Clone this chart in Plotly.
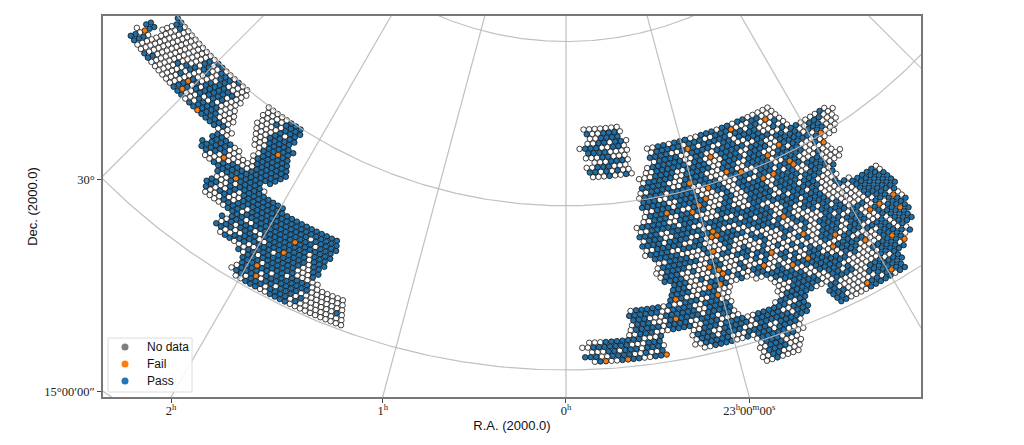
#!/usr/bin/env python3

import numpy as np
import plotly.graph_objects as go

# survey cells, one list per declination row
# each row is a list of (first column, status string): W = not observed, P = pass
DEC_STEP = 0.4384
RA_STEP = 0.507

LEFT_TOP_DEC = 44.9
LEFT_CENTRE = -37.0
LEFT_COL0 = -28
LEFT_ROWS = [
  [(5, "PPWWWWWWWWWPPWWWPWW"), (28, "WWWWWPPP")],
  [(5, "PPWWWWWWWPWWPPPWWWW"), (28, "WWWWPPPP")],
  [(5, "WWWWWWWWWPPWWPPWWWW"), (28, "WWWPWPPP")],
  [(4, "WWWWWWWWWWPPWWPPPPWW"), (28, "WWWWPWPP")],
  [(4, "WWWWWWWWWPWWWPPPPWWW"), (28, "WWWWPPPP")],
  [(1, "PP"), (4, "WWWWWWWPPWWWPPPPPWWW"), (28, "WWWPPPPPP")],
  [(1, "PP"), (4, "WWWWWWPWWWPPWPPPWWWWW"), (29, "WWWPPPPP")],
  [(1, "PWWWWWWWWWPWWWPPWWPPWWWW"), (29, "WWWPPPPP")],
  [(0, "WWPWWWWWWWWWWPPWWPPPPPWWW"), (30, "WWPPPPPP")],
  [(0, "PPWWWPWWWWWWPPWWWPPPPPPPWW"), (31, "WPPPPPP")],
  [(0, "PPWWPPWWWWWWPPPWPPWPPPPWWW"), (31, "WPPPPPPP")],
  [(23, "PPPPWW"), (31, "WPPPPPP")],
  [(23, "PPPPWWWWWWPPPPP")],
  [(23, "PPPPWWWWWPPPPP")],
  [(22, "PPPPWWWPPPPPPP")],
  [(22, "PPWWWPPPPPPPPPW")],
  [(24, "WWPPPPPPPPPPPPPPPP")],
  [(27, "PWWPWPPPPPPPPPPPPPPPPPPPPP")],
  [(28, "WWWPPWPPPPPPPPPPPPPPPPPPPP")],
  [(27, "PPWWPWWPPPPPPPPPPPPPPWPPPPP")],
  [(27, "PPWPPWWPPWPPPPPPPPPPPPPWPPP")],
  [(27, "PWWWPPPPWPPPPPPPPPPPPPPPPPP")],
  [(28, "WWWWWPPPPWWPPPPPPPPPPPWPPP")],
  [(34, "PPPPPWWPPPPPPPPPWPPP")],
  [(33, "PWPWPPPPWWPPPPPPPPWPP")],
  [(33, "WPPWWPPPPPPWPPPPPWWPP")],
  [(33, "PPWWPPPWWPPPPPPPPWWWP")],
  [(34, "WPPWWWPPWPPPPPPPWWWWW")],
  [(39, "PWPPPWPPPPWPPPPWWWWWWW")],
  [(40, "PPPPPPWPPPPPPPWWWWWWW")],
  [(41, "PPPPWPPPPPPPWWWWWWWWW")],
  [(40, "WPPPPWPPWPPPWPWWWWWWPW")],
  [(40, "WPPWPPPWPPPPWPWWWWWWWWW")],
  [(41, "WWPPPWWPPPPWWWWWWWWWWW")],
]
LEFT_FAIL = [(7, -27), (7, -15), (9, -15), (10, -10), (14, -1), (16, 3), (7, 6),
             (21, 18), (24, 18), (29, 15), (31, 16)]

SQUARE_TOP_DEC = 51.92
SQUARE_CENTRE = 4.7
SQUARE_COL0 = -4
SQUARE_ROWS = [
  [(1, "WWWWWWW")],
  [(1, "PWWPPPW")],
  [(2, "WWPPPP")],
  [(1, "WWPPWPPW")],
  [(0, "WPPPWWPPW")],
  [(1, "PPPPWWWW")],
  [(1, "WWWPPWWW")],
  [(2, "WWWPPPW")],
  [(1, "WWPPPWWW")],
  [(1, "PPWPWPWW")],
  [(2, "WWWPWWPW")],
]

RIGHT_TOP_DEC = 49.54
RIGHT_CENTRE = 17.0
RIGHT_COL0 = -31
RIGHT_ROWS = [
  [(22, "WWPPWPPPWWPPPWPPWPPWWWWW")],
  [(22, "WPPPPPWPPPWWPPPPWWWPPWWW")],
  [(22, "PPPPWWPPPWPPPPPWPPWPPWWWW")],
  [(22, "WPPPPWWPPPPWWPPWPPPPWWWPW")],
  [(21, "WPPPPPPWWPPWWPPPPWWPPPWWPWW")],
  [(20, "WWPPPPPPWPPWWWPPPPPWWPPPWWPW")],
  [(19, "WWWPPPPWWPPPPWWWPPPWWPPPWWPPWPPWWWWPW")],
  [(19, "WPPPPPWWPPPPPWWPPPPWPPPPWWPPPPWWPPPWWW")],
  [(19, "PPPPPWWWPPPPWWWPPPWWPPPWWWPPPPPWPPPWWW")],
  [(18, "WWPPPPWWPPPPPWWWPPWWPPPPWWPPWPPPPWPPWWW")],
  [(18, "WPPPPWPPPPWWPPPWWPPPWWPPPWPPPPPWWWPPWWW")],
  [(18, "PPPWWPPPPPWWPPPWWWPPPWPPPWWPPPPWWPWWWW")],
  [(18, "PPPPPWWPPPPWWWPPWWPPWWPPPWPPPPWWWWWW")],
  [(18, "WWPPPWPPPPPPWWWPWWPPPPWWPPWPPPWWWPWW")],
  [(18, "WPPPPPPWWPPPWWWPPWWPPPPWWPPPPWWPPPWWW")],
  [(17, "WWPPPWWPPPPPWWWPPWWWPPPPWPPPPPWWPPPWWWW")],
  [(16, "WPPPPPWWPPPWWWWPPPWWWPPPPPWPPPPWPPPPPWWW")],
  [(16, "WWPPPPPWPPPPWWWPPPPWWPPPPWWPPPWPPPPWWP")],
  [(16, "PPPPWWPPPPWWPPPPWWPPPPPWWPPPWPPPPPWWWP")],
  [(16, "WPPPWWPPPPPWWPPPPPWPPPPPWWPPPPPWPPWWWW")],
  [(16, "PPPPWPPPPWWPPPPWWWPPPWPPPWWPPPWPPPWWWP")],
  [(16, "WWPPPPPWWPPWWPPPPWWPPPPPWWPPWWPPPPWWWPPW")],
  [(16, "WPPPPWWPPPPWWWPPPPPWWPPPWPPPWWPPPPPWWWWWPPPPPW")],
  [(17, "PPPPPWWWWPWWWPPWWWPWWWPPWWPWWWPWPPWWWWWPPPPPW")],
  [(18, "WWPPPPWWWPWWWPWWWWPPWWWPWWPPWWWPPWPWWWWPPPPPP")],
  [(17, "WPPPPPPPWWWWPPWWPWWWPWWWPPWWPWWWPPPPWWWWPPPPPP")],
  [(17, "WWPPPPWWWWPPWWWPPPWWPWWWPWWWPWWPPPWPPWWWWPPPPPP")],
  [(17, "WPPPWWPWWWPPWWWWPWPPWWPWWWPPWWWPPPPWWPPPWWPPPPP")],
  [(18, "PPPPWWWWWPPWWWPWWPWPWWWWPWWPWWPPPPWPPPWWWPPPWP")],
  [(19, "PPPWWPWWWPPWWPWWWPWWPPWWPWWWPPPPWWPPPWWPPWPPW")],
  [(19, "PPPWWWWPPPWWPWWPPPWWWPWPWWPWWPPPWWPPPPWWPWPPPW")],
  [(18, "PPPPWWWPPPPWWPWWPPWWPWWPWWPPPWWWWPPPPWWWWPPPPPP")],
  [(18, "PPPWWWPPPWWW"), (34, "WWPPPPWWPPPPPWWPPPPWWWPPPPWPPPP")],
  [(10, "WPPPPPWPWWPPPWWPPWW"), (36, "WPPPPWWPPPPPWWPPPPPWWWPPWPPPP")],
  [(10, "PPPPPPWWPPPPWWPPPWW"), (37, "WWPPPPWWPPPPPWPPPWWWWPPPWPPP")],
  [(10, "PPPWWWPPPPPPWWPPPPW"), (37, "WWWPPPWWPPPPPPWPWWWWWPPPWPPP")],
  [(10, "WPPPWWWPPPPPPWPPPPP"), (37, "WWWPPPPPWWPPPWWWWWWPPPPWPPW")],
  [(9, "WPPPPPWPPPPWWPPPWPPW"), (37, "WPPPPPPPWWPPWPWWWWWWPPPPPWP")],
  [(9, "WWPPPWWWPPPPWWPPPWWWW"), (36, "WPPPPPPPWWWWPPPPWWWWWPPPPWW")],
  [(1, "WWWPPPPPPPWWWP"), (20, "WWPPPWPPPPWWPPPPPPWWPP"), (46, "PPWWWWWWPPPWWPPP")],
  [(0, "WWPPPPPPPWWWPPP"), (20, "WPPPWWPPPPPWPPPPPWWPPP"), (46, "PPWWWWWWPPPPPPP")],
  [(1, "WWWPPWPPPWPPPW"), (20, "WPPPWPPPPWWWPPPPPPWPPP"), (46, "PPPWWWWWWPPPPPP")],
  [(0, "PPPWWPPPPWWPWWP"), (20, "WWPPPPPWWWPPPPWWPPPPPP"), (47, "PPWWWWWPPWPPPP")],
  [(1, "WPWWWPPPPWWPPW"), (21, "WWPPPPWWPWPPPWPPPPW"), (47, "PPWWWWPPPPPWPP")],
  [(31, "WPPPPPWWW")],
  [(31, "WPPPWPPWW")],
  [(31, "WWPPPWWW")],
  [(31, "WPPPPWWW")],
  [(31, "WWPPWWWW")],
  [(31, "WWPWWWW")],
]
RIGHT_FAIL = [(1, 6), (2, -2), (5, 1), (9, 3), (10, 6), (9, -4), (11, -1), (13, -2), (14, -3),
              (14, -9), (15, -5), (20, -2), (21, -2), (21, -3), (2, 13), (10, 22), (12, 22),
              (8, 14), (9, 11), (12, 15), (13, 15), (13, 11), (13, 9), (29, 31), (32, 32),
              (29, 28), (29, 26), (22, 11), (27, 13), (30, 19), (34, 24), (36, 29), (38, 31),
              (32, 18), (32, 13), (28, 7), (30, 5), (32, 10), (42, 27), (42, 22), (32, 0),
              (24, -3), (27, -5), (28, -3), (29, -3), (31, -4), (31, -6), (33, -5), (32, -12),
              (36, -13), (43, -28), (43, -24), (43, -17)]

RA_GRID = [-60, -45, -30, -15, 0, 15, 30, 45, 60]
DEC_GRID = [15, 30, 45, 60]
X_TICK_RA = [-30, -15, 0, 15]
X_TICK_TEXT = ['2<sup>h</sup>', '1<sup>h</sup>', '0<sup>h</sup>', '23<sup>h</sup>00<sup>m</sup>00<sup>s</sup>']
Y_TICK_DEC = [30, 15]
Y_TICK_TEXT = ['30°', '15°00′00″']
LEGEND_NAMES = ['No data', 'Fail', 'Pass']
LEGEND_COLORS = ['#7f7f7f', '#ff7f0e', '#1f77b4']

X_RANGE = [-42.28, 32.42]
Y_RANGE = [-62.47, -27.67]

GRID_COLOR = 'rgba(185,185,185,0.9)'
SANS = 'Liberation Sans'
SERIF = 'Liberation Serif'

#plot area on the page, used to place the hand drawn legend
LEFT, RIGHT, TOP, BOTTOM = 103, 921, 16, 397


def paper_x(px):
  return (px - LEFT) / (RIGHT - LEFT)


def paper_y(py):
  return (BOTTOM - py) / (BOTTOM - TOP)


#polar projection, theta in degrees and positive to the right of 0h
def project(theta, dec):
  r = 90 - np.asarray(dec, dtype = float)
  t = np.radians(theta)
  return r * np.sin(t), -r * np.cos(t)


def cells(rows, top_dec, centre, col0, fails):
  out = {'W': ([], []), 'P': ([], []), 'F': ([], [])}
  for n, row in enumerate(rows):
    dec = top_dec - n * DEC_STEP
    for start, body in row:
      for k, status in enumerate(body):
        col = col0 + start + k
        if (n, col) in fails:
          status = 'F'
        theta = centre + np.degrees((col + 0.5 * (n % 2)) * RA_STEP / (90 - dec))
        x, y = project(theta, dec)
        out[status][0].append(x)
        out[status][1].append(y)
  return out


fig = go.Figure()

blocks = [cells(LEFT_ROWS, LEFT_TOP_DEC, LEFT_CENTRE, LEFT_COL0, set(LEFT_FAIL)),
          cells(SQUARE_ROWS, SQUARE_TOP_DEC, SQUARE_CENTRE, SQUARE_COL0, set()),
          cells(RIGHT_ROWS, RIGHT_TOP_DEC, RIGHT_CENTRE, RIGHT_COL0, set(RIGHT_FAIL))]

for status, color in [('W', 'white'), ('P', '#1f6fa8'), ('F', '#ef7d1a')]:
  xs = sum((b[status][0] for b in blocks), [])
  ys = sum((b[status][1] for b in blocks), [])
  fig.add_trace(go.Scatter(x = xs, y = ys, mode = 'markers', showlegend = False, hoverinfo = 'skip',
                           marker = dict(color = color, size = 5.5, line = dict(color = '#111111', width = 0.8))))

#grid goes over the cells
for ra in RA_GRID:
  dec = np.linspace(-10, 88, 80)
  x, y = project(np.full(dec.shape, ra), dec)
  fig.add_trace(go.Scatter(x = x, y = y, mode = 'lines', showlegend = False, hoverinfo = 'skip',
                           line = dict(color = GRID_COLOR, width = 1.2)))
for d in DEC_GRID:
  theta = np.linspace(-70, 70, 300)
  x, y = project(theta, np.full(theta.shape, d))
  fig.add_trace(go.Scatter(x = x, y = y, mode = 'lines', showlegend = False, hoverinfo = 'skip',
                           line = dict(color = GRID_COLOR, width = 1.2)))

#legend box, the built in one pads too much to fit this height
fig.add_shape(type = 'rect', xref = 'paper', yref = 'paper', x0 = paper_x(108), x1 = paper_x(192),
              y0 = paper_y(392), y1 = paper_y(338), fillcolor = 'rgba(255,255,255,0.85)',
              line = dict(color = '#dcdcdc', width = 1))
for k, (name, color) in enumerate(zip(LEGEND_NAMES, LEGEND_COLORS)):
  cy = 347 + k * 17
  fig.add_shape(type = 'circle', xref = 'paper', yref = 'paper', x0 = paper_x(121.5), x1 = paper_x(128.5),
                y0 = paper_y(cy + 3.5), y1 = paper_y(cy - 3.5), fillcolor = color, line = dict(width = 0))
  fig.add_annotation(xref = 'paper', yref = 'paper', x = paper_x(145), y = paper_y(cy), text = name,
                     showarrow = False, xanchor = 'left', yanchor = 'middle',
                     font = dict(family = SANS, size = 12, color = '#111111'))

x_ticks = [-Y_RANGE[0] * float(np.tan(np.radians(ra))) for ra in X_TICK_RA]
y_ticks = [-float(np.sqrt((90 - d) ** 2 - X_RANGE[0] ** 2)) for d in Y_TICK_DEC]

axis_style = dict(showgrid = False, zeroline = False, showline = True, mirror = True,
                  linecolor = '#777777', linewidth = 1.6, ticks = 'outside', ticklen = 4,
                  tickcolor = '#444444', tickwidth = 1, tickfont = dict(family = SERIF, size = 12.5, color = '#222222'),
                  title_font = dict(family = SANS, size = 13, color = '#111111'))

fig.update_xaxes(range = X_RANGE, tickmode = 'array', tickvals = x_ticks, ticktext = X_TICK_TEXT,
                 ticklabelstandoff = -3, title_text = 'R.A. (2000.0)', title_standoff = 4, **axis_style)
fig.update_yaxes(range = Y_RANGE, tickmode = 'array', tickvals = y_ticks, ticktext = Y_TICK_TEXT,
                 title_text = 'Dec. (2000.0)', title_standoff = 4, **axis_style)

fig.update_layout(width = 1024, height = 445, autosize = False, showlegend = False,
                  margin = dict(l = 103, r = 103, t = 16, b = 48, autoexpand = False),
                  plot_bgcolor = 'white', paper_bgcolor = 'white',
                  font = dict(family = SANS, color = '#111111'))

fig.write_html("out.html", config = {'displayModeBar': False}, post_script = "document.body.style.margin = '0';")
